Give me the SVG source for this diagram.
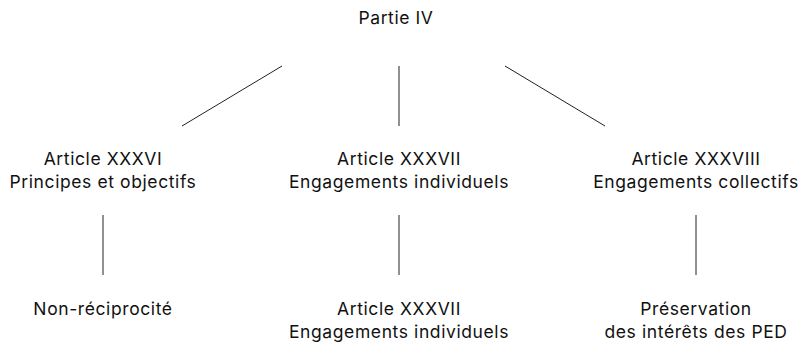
<svg xmlns="http://www.w3.org/2000/svg" width="802" height="345" viewBox="0 0 802 345">
<style>
text{font-family:Inter,"Liberation Sans",sans-serif;font-size:17.5px;letter-spacing:0.6px;fill:#111;text-anchor:middle}
.c line{stroke:#222;stroke-width:1}
</style>
<rect width="802" height="345" fill="#fff"/>
<g class="c">
<line x1="282" y1="66" x2="182" y2="126"/>
<line x1="399" y1="66" x2="399" y2="126"/>
<line x1="505" y1="66" x2="605" y2="126"/>
<line x1="103" y1="215" x2="103" y2="275"/>
<line x1="399" y1="215" x2="399" y2="275"/>
<line x1="696" y1="215" x2="696" y2="275"/>
</g>
<g id="root"><text x="396" y="24">Partie IV</text></g>
<g id="a36"><text x="103" y="164.5">Article XXXVI</text><text x="103" y="187.5">Principes et objectifs</text></g>
<g id="a37"><text x="399" y="164.5">Article XXXVII</text><text x="399" y="187.5">Engagements individuels</text></g>
<g id="a38"><text x="696" y="164.5">Article XXXVIII</text><text x="696" y="187.5">Engagements collectifs</text></g>
<g id="nr"><text x="103" y="315">Non-réciprocité</text></g>
<g id="a37b"><text x="399" y="315">Article XXXVII</text><text x="399" y="338">Engagements individuels</text></g>
<g id="ped"><text x="696" y="315">Préservation</text><text x="696" y="338">des intérêts des PED</text></g>
</svg>
